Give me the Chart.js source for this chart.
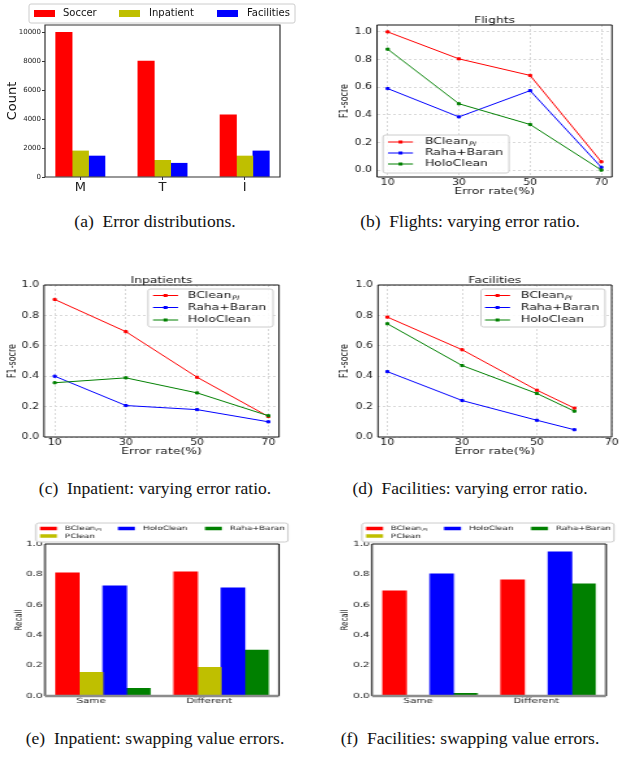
<!DOCTYPE html>
<html>
<head>
<meta charset="utf-8">
<script src="https://cdn.jsdelivr.net/npm/chart.js@4.4.0/dist/chart.umd.min.js"></script>
<style>
  html, body { margin: 0; padding: 0; background: #fff; }
  #page { position: relative; width: 620px; height: 759px; overflow: hidden; background: #fff; }
  .panel { position: absolute; transform-origin: 0 0; }
  .panel canvas { display: block; }
  .cap { position: absolute; width: 310px; text-align: center; white-space: nowrap;
         font-family: "Liberation Serif", "DejaVu Serif", serif; font-size: 17.5px; line-height: 20px; color: #111; }
</style>
</head>
<body>
<div id="page">
  <div class="panel" id="pa"><canvas id="ca"></canvas></div>
  <div class="panel" id="pb"><canvas id="cb"></canvas></div>
  <div class="panel" id="pc"><canvas id="cc"></canvas></div>
  <div class="panel" id="pd"><canvas id="cd"></canvas></div>
  <div class="panel" id="pe"><canvas id="ce"></canvas></div>
  <div class="panel" id="pf"><canvas id="cf"></canvas></div>

  <div class="cap" style="left:0;top:211px">(a)&ensp;Error distributions.</div>
  <div class="cap" style="left:315px;top:211px">(b)&ensp;Flights: varying error ratio.</div>
  <div class="cap" style="left:0;top:478px">(c)&ensp;Inpatient: varying error ratio.</div>
  <div class="cap" style="left:315px;top:478px">(d)&ensp;Facilities: varying error ratio.</div>
  <div class="cap" style="left:0;top:728px">(e)&ensp;Inpatient: swapping value errors.</div>
  <div class="cap" style="left:315px;top:728px">(f)&ensp;Facilities: swapping value errors.</div>
</div>

<script>
// ---- data ----

// (a) error distributions per dataset
const errTypes = ['M', 'T', 'I'];
const soccerCounts = [10000, 8000, 4300];
const inpatientCounts = [1800, 1150, 1450];
const facilitiesCounts = [1450, 950, 1800];
const countTicks = [0, 2000, 4000, 6000, 8000, 10000];

// (b)-(d) F1 vs error rate
const errorRates = [10, 30, 50, 70];
const facErrorRates = [10, 30, 50, 60];
const rateTicks = [10, 30, 50, 70];
const scoreTicks = [0, 0.2, 0.4, 0.6, 0.8, 1.0];

const flightsBClean = [1.0, 0.805, 0.685, 0.06];
const flightsRaha = [0.59, 0.385, 0.575, 0.02];
const flightsHolo = [0.875, 0.48, 0.33, 0.0];

const inpBClean = [0.905, 0.693, 0.393, 0.135];
const inpRaha = [0.40, 0.207, 0.18, 0.10];
const inpHolo = [0.357, 0.389, 0.29, 0.14];

const facBClean = [0.789, 0.574, 0.308, 0.19];
const facRaha = [0.43, 0.24, 0.11, 0.048];
const facHolo = [0.745, 0.47, 0.286, 0.17];

// (e),(f) recall on swapping value errors
const swapTypes = ['Same', 'Different'];
const inpSwapBClean = [0.81, 0.817];
const inpSwapPClean = [0.156, 0.189];
const inpSwapHolo = [0.725, 0.711];
const inpSwapRaha = [0.05, 0.302];
const facSwapBClean = [0.692, 0.764];
const facSwapPClean = [0.004, 0.004];
const facSwapHolo = [0.804, 0.949];
const facSwapRaha = [0.018, 0.738];

// ---- styling ----
const FONT = "'DejaVu Sans', 'Noto Sans', sans-serif";
const RED = '#ff0000', YELLOW = '#bfbf00', BLUE = '#0000ff', GREEN = '#008000';

Chart.defaults.font.family = FONT;
Chart.defaults.animation = false;

// page-space layout of every panel (frame = plot box in page pixels)
// sx = horizontal stretch of the original raster images
const panels = {
  a: { left: 0,   top: 0,   w: 310, h: 205, sx: 1,    frame: [45, 25, 280, 177],  yTitleX: 13 },
  b: { left: 310, top: 0,   w: 310, h: 205, sx: 1.3,  frame: [377, 25, 612, 177], yTitleX: 344.5, xTitleY: 192 },
  c: { left: 0,   top: 262, w: 310, h: 205, sx: 1.3,  frame: [44, 285, 279, 437], yTitleX: 13,    xTitleY: 452 },
  d: { left: 310, top: 262, w: 310, h: 205, sx: 1.3,  frame: [378, 285, 612, 437], yTitleX: 344.5, xTitleY: 452 },
  e: { left: 0,   top: 515, w: 310, h: 200, sx: 1.45, frame: [45, 544, 279, 696], yTitleX: 19 },
  f: { left: 310, top: 515, w: 310, h: 200, sx: 1.45, frame: [372, 544, 606, 696], yTitleX: 345.5 }
};

// frame, title and legend per canvas (already in canvas pixels)
const decorSpecs = {};

function drawLegend(chart, lg) {
  const ctx = chart.ctx;
  ctx.save();
  ctx.beginPath();
  if (ctx.roundRect) ctx.roundRect(lg.box.x, lg.box.y, lg.box.w, lg.box.h, 2);
  else ctx.rect(lg.box.x, lg.box.y, lg.box.w, lg.box.h);
  ctx.fillStyle = 'rgba(255,255,255,0.85)';
  ctx.fill();
  ctx.strokeStyle = '#cccccc';
  ctx.lineWidth = 1;
  ctx.stroke();

  lg.items.forEach(it => {
    const ds = chart.data.datasets[it.ds];
    const color = ds.borderColor || ds.backgroundColor;
    if (lg.kind === 'line') {
      ctx.strokeStyle = color;
      ctx.lineWidth = 1;
      ctx.beginPath();
      ctx.moveTo(it.sx, it.y);
      ctx.lineTo(it.sx + lg.sw, it.y);
      ctx.stroke();
      ctx.fillStyle = color;
      ctx.fillRect(it.sx + lg.sw / 2 - 1.5, it.y - 1.5, 3, 3);
    } else {
      ctx.fillStyle = color;
      ctx.fillRect(it.sx, it.y - lg.sh / 2, lg.sw, lg.sh);
    }
    ctx.fillStyle = '#111';
    ctx.textAlign = 'left';
    ctx.textBaseline = 'middle';
    ctx.font = `${lg.size}px ${FONT}`;
    ctx.fillText(ds.label, it.tx, it.y);
    if (ds.labelSub) {
      const w = ctx.measureText(ds.label).width;
      ctx.font = `italic ${lg.size * 0.65}px ${FONT}`;
      ctx.fillText(ds.labelSub, it.tx + w + 0.5, it.y + lg.size * 0.3);
    }
  });
  ctx.restore();
}

function drawFrame(chart, f) {
  const { left, top, right, bottom } = chart.chartArea;
  const ctx = chart.ctx;
  ctx.save();
  ctx.setLineDash([]);
  ctx.strokeStyle = f.color;
  ctx.lineWidth = f.width;
  ctx.beginPath();
  ctx.moveTo(left, bottom);
  ctx.lineTo(left, top);
  ctx.lineTo(right, top);
  ctx.lineTo(right, bottom);
  if (!f.bottomColor) ctx.closePath();
  ctx.stroke();
  if (f.bottomColor) {
    ctx.strokeStyle = f.bottomColor;
    ctx.lineWidth = f.bottomWidth;
    ctx.beginPath();
    ctx.moveTo(left, bottom);
    ctx.lineTo(right, bottom);
    ctx.stroke();
  }
  ctx.restore();
}

const decorPlugin = {
  id: 'decor',
  afterDraw(chart) {
    const spec = decorSpecs[chart.canvas.id];
    if (!spec) return;
    const ctx = chart.ctx;
    if (spec.frame) drawFrame(chart, spec.frame);
    if (spec.title) {
      const { left, right } = chart.chartArea;
      ctx.save();
      ctx.fillStyle = '#111';
      ctx.textAlign = 'center';
      ctx.textBaseline = 'middle';
      ctx.font = `${spec.title.size}px ${FONT}`;
      ctx.fillText(spec.title.text, (left + right) / 2, spec.title.y);
      ctx.restore();
    }
    if (spec.legend) drawLegend(chart, spec.legend);
  }
};

function axis(min, max, tickVals, fmt, o) {
  return {
    type: 'linear',
    min: min,
    max: max,
    offset: false,
    afterBuildTicks: s => { s.ticks = tickVals.map(v => ({ value: v })); },
    ticks: {
      callback: v => fmt(v),
      font: { size: o.tick },
      color: '#222',
      padding: o.pad,
      maxRotation: 0,
      autoSkip: false
    },
    grid: o.grid
      ? { offset: false, color: '#d9d9d9', lineWidth: 1, drawTicks: false }
      : { offset: false, drawOnChartArea: false, drawTicks: o.tl > 0, tickLength: o.tl || 0, color: '#333' },
    border: o.grid ? { display: false, dash: [2, 2] } : { display: false },
    title: o.title
      ? { display: true, text: o.title, font: { size: o.titleSize }, color: '#111' }
      : { display: false }
  };
}

function lineSet(label, rates, vals, color, order) {
  return {
    label: label,
    data: rates.map((x, i) => ({ x: x, y: vals[i] })),
    borderColor: color,
    backgroundColor: color,
    borderWidth: 1,
    pointStyle: 'rect',
    pointRadius: 1.5,
    pointBorderWidth: 1,
    tension: 0,
    order: order
  };
}

function barSet(label, vals, offset, color) {
  return {
    label: label,
    data: vals.map((y, i) => ({ x: i + offset, y: y })),
    backgroundColor: color,
    borderWidth: 0,
    grouped: false,
    barPercentage: 1,
    categoryPercentage: 1
  };
}

function build(id, type, datasets, xAxis, yAxis, decor) {
  const p = panels[id];
  const panel = document.getElementById('p' + id);
  const canvas = document.getElementById('c' + id);
  const W = Math.round(p.w / p.sx), H = p.h;
  const ix = X => (X - p.left) / p.sx;
  const iy = Y => Y - p.top;

  canvas.width = W;
  canvas.height = H;
  canvas.style.width = W + 'px';
  canvas.style.height = H + 'px';
  panel.style.left = p.left + 'px';
  panel.style.top = p.top + 'px';
  panel.style.transform = `scaleX(${p.sx})`;

  const fl = ix(p.frame[0]), ft = iy(p.frame[1]), fr = ix(p.frame[2]), fb = iy(p.frame[3]);
  xAxis.afterFit = s => { s.height = H - fb; };
  yAxis.afterFit = s => { s.width = fl; };
  if (yAxis.title.display) {
    const sz = yAxis.title.font.size;
    yAxis.title.padding = { top: ix(p.yTitleX) - 0.6 * sz, bottom: 0 };
  }
  if (xAxis.title.display) {
    const sz = xAxis.title.font.size;
    xAxis.title.padding = { top: 0, bottom: H - 0.6 * sz - iy(p.xTitleY) };
  }

  // move decor from page space into canvas space
  const spec = { frame: decor.frame };
  if (decor.title) spec.title = { text: decor.title.text, size: decor.title.size, y: iy(decor.title.y) };
  if (decor.legend) {
    const lg = decor.legend;
    spec.legend = {
      kind: lg.kind,
      size: lg.size,
      sw: lg.sw / p.sx,
      sh: lg.sh,
      box: { x: ix(lg.box[0]), y: iy(lg.box[1]), w: (lg.box[2] - lg.box[0]) / p.sx, h: lg.box[3] - lg.box[1] },
      items: lg.items.map(it => ({ ds: it.ds, sx: ix(it.sx), tx: ix(it.tx), y: iy(it.y) }))
    };
  }
  decorSpecs[canvas.id] = spec;

  return new Chart(canvas, {
    type: type,
    data: { datasets: datasets },
    options: {
      responsive: false,
      devicePixelRatio: 1,
      animation: false,
      layout: { padding: { left: 0, top: ft, right: W - fr, bottom: 0 } },
      plugins: { legend: { display: false }, tooltip: { enabled: false } },
      scales: { x: xAxis, y: yAxis }
    },
    plugins: [decorPlugin]
  });
}

const fmtScore = v => v.toFixed(1);
const fmtInt = v => String(v);

// (a) Error distributions
build('a', 'bar',
  [
    barSet('Soccer', soccerCounts, -0.2, RED),
    barSet('Inpatient', inpatientCounts, 0, YELLOW),
    barSet('Facilities', facilitiesCounts, 0.2, BLUE)
  ],
  axis(-0.43, 2.43, [0, 1, 2], v => errTypes[v], { tick: 13, pad: 0, tl: 3 }),
  axis(0, 10500, countTicks, fmtInt, { tick: 7, pad: 1, tl: 3, title: 'Count', titleSize: 13 }),
  {
    frame: { color: '#333', width: 1.2 },
    legend: {
      kind: 'patch', size: 10, sw: 21, sh: 7, box: [29, 4, 295, 23],
      items: [
        { ds: 0, sx: 34, tx: 63, y: 13.5 },
        { ds: 1, sx: 119, tx: 149, y: 13.5 },
        { ds: 2, sx: 217, tx: 247, y: 13.5 }
      ]
    }
  }
);

function scoreChart(id, title, rates, bclean, raha, holo, xMin, xMax, legend) {
  const sets = [
    lineSet('BClean', rates, bclean, RED, 3),
    lineSet('Raha+Baran', rates, raha, BLUE, 2),
    lineSet('HoloClean', rates, holo, GREEN, 1)
  ];
  sets[0].labelSub = 'PI';
  const yMin = id === 'b' ? -0.05 : 0;
  const yMax = id === 'b' ? 1.05 : 1.0;
  build(id, 'line', sets,
    axis(xMin, xMax, rateTicks, fmtInt, { tick: 8.5, pad: 0.5, grid: true, title: 'Error rate(%)', titleSize: 9.5 }),
    axis(yMin, yMax, scoreTicks, fmtScore, { tick: 8.5, pad: 3.8, grid: true, title: 'F1-socre', titleSize: 8 }),
    {
      frame: { color: '#111', width: 1 },
      title: { text: title, size: 9.5, y: panels[id].frame[1] - 4 },
      legend: Object.assign({ kind: 'line', size: 9.5, sw: 25, sh: 0 }, legend)
    }
  );
}

// (b) Flights
scoreChart('b', 'Flights', errorRates, flightsBClean, flightsRaha, flightsHolo, 7, 73, {
  box: [383, 135, 509, 173],
  items: [
    { ds: 0, sx: 388, tx: 425, y: 142 },
    { ds: 1, sx: 388, tx: 425, y: 153 },
    { ds: 2, sx: 388, tx: 425, y: 164 }
  ]
});

// (c) Inpatients
scoreChart('c', 'Inpatients', errorRates, inpBClean, inpRaha, inpHolo, 7, 73, {
  box: [148, 289, 273, 327],
  items: [
    { ds: 0, sx: 153, tx: 188, y: 295.5 },
    { ds: 1, sx: 153, tx: 188, y: 307.5 },
    { ds: 2, sx: 153, tx: 188, y: 320 }
  ]
});

// (d) Facilities
scoreChart('d', 'Facilities', facErrorRates, facBClean, facRaha, facHolo, 7.5, 70, {
  box: [481, 289, 605, 327],
  items: [
    { ds: 0, sx: 485, tx: 521, y: 295.5 },
    { ds: 1, sx: 485, tx: 521, y: 307.5 },
    { ds: 2, sx: 485, tx: 521, y: 320 }
  ]
});

function swapChart(id, bclean, pclean, holo, raha, dx) {
  const sets = [
    barSet('BClean', bclean, -0.2, RED),
    barSet('PClean', pclean, 0, YELLOW),
    barSet('HoloClean', holo, 0.2, BLUE),
    barSet('Raha+Baran', raha, 0.4, GREEN)
  ];
  sets[0].labelSub = 'PI';
  build(id, 'bar', sets,
    axis(-0.39, 1.59, [0, 1], v => swapTypes[v], { tick: 7.2, pad: 0.7, tl: 0 }),
    axis(0, 1, scoreTicks, fmtScore, { tick: 7.2, pad: 1.6, tl: 0, title: 'Recall', titleSize: 7 }),
    {
      frame: { color: '#111', width: 1, bottomColor: '#8c8c8c', bottomWidth: 2.5 },
      legend: {
        kind: 'patch', size: 6, sw: 17, sh: 3.5, box: [36 + dx, 523, 288 + dx, 542],
        items: [
          { ds: 0, sx: 40 + dx, tx: 65 + dx, y: 528.5 },
          { ds: 2, sx: 118 + dx, tx: 143 + dx, y: 528.5 },
          { ds: 3, sx: 205 + dx, tx: 230 + dx, y: 528.5 },
          { ds: 1, sx: 40 + dx, tx: 65 + dx, y: 536 }
        ]
      }
    }
  );
}

// (e) Inpatient swapping, (f) Facilities swapping
swapChart('e', inpSwapBClean, inpSwapPClean, inpSwapHolo, inpSwapRaha, 0);
swapChart('f', facSwapBClean, facSwapPClean, facSwapHolo, facSwapRaha, 326);
</script>
</body>
</html>
